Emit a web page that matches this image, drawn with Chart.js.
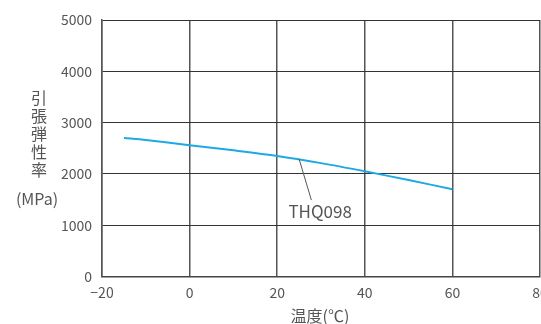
<!DOCTYPE html>
<html>
<head>
<meta charset="utf-8">
<script src="https://cdn.jsdelivr.net/npm/chart.js@4.4.1/dist/chart.umd.min.js"></script>
<style>
  html, body { margin: 0; padding: 0; background: #fff; overflow: hidden; }
  #wrap { width: 541px; height: 324px; overflow: hidden; position: relative; }
  canvas { display: block; }
</style>
</head>
<body>
<div id="wrap"><canvas id="c" width="580" height="324"></canvas></div>
<script>
// Tensile modulus of THQ098 versus temperature
const temperatures = [-15, -10, 0, 10, 20, 30, 40, 50, 60];
const modulusTHQ098 = [2700, 2660, 2560, 2460, 2350, 2210, 2050, 1880, 1700];
const xTicks = [-20, 0, 20, 40, 60, 80];
const yTicks = [0, 1000, 2000, 3000, 4000, 5000];
const seriesName = 'THQ098';
const yTitleChars = ['引', '張', '弾', '性', '率'];
const yUnit = '(MPa)';
const xTitle = '温度(℃)';

const FONT = '"Noto Sans CJK JP", "Noto Sans", sans-serif';
const TEXT = '#555';

// Callout for the series name, in data units
const callout = { from: [25, 2290], to: [27.8, 1490], text: [29.8, 1260] };

const titlesPlugin = {
  id: 'titles',
  afterDraw(chart) {
    const ctx = chart.ctx;
    const xs = chart.scales.x, ys = chart.scales.y;
    ctx.save();
    // series callout
    ctx.strokeStyle = '#555';
    ctx.lineWidth = 1;
    ctx.beginPath();
    ctx.moveTo(xs.getPixelForValue(callout.from[0]), ys.getPixelForValue(callout.from[1]));
    ctx.lineTo(xs.getPixelForValue(callout.to[0]), ys.getPixelForValue(callout.to[1]));
    ctx.stroke();
    ctx.fillStyle = TEXT;
    ctx.font = '17px ' + FONT;
    ctx.textAlign = 'center';
    ctx.textBaseline = 'middle';
    ctx.fillText(seriesName, xs.getPixelForValue(callout.text[0]), ys.getPixelForValue(callout.text[1]));
    // vertical y title
    ctx.font = '16px ' + FONT;
    yTitleChars.forEach((ch, i) => ctx.fillText(ch, 39, 98 + i * 18));
    ctx.fillText(yUnit, 37, 199);
    // x title
    ctx.font = '16px ' + FONT;
    ctx.fillText(xTitle, 320, 316);
    ctx.restore();
  }
};

new Chart(document.getElementById('c'), {
  type: 'line',
  data: {
    datasets: [{
      label: seriesName,
      data: temperatures.map((t, i) => ({ x: t, y: modulusTHQ098[i] })),
      borderColor: '#1DA9E4',
      borderWidth: 2,
      pointRadius: 0,
      tension: 0.3,
      fill: false
    }]
  },
  options: {
    responsive: false,
    animation: false,
    events: [],
    layout: { padding: { top: 20, right: 40, left: 0, bottom: 0 } },
    plugins: { legend: { display: false }, tooltip: { enabled: false } },
    scales: {
      x: {
        type: 'linear',
        min: -20, max: 80,
        afterBuildTicks(s) { s.ticks = xTicks.map(v => ({ value: v })); },
        afterFit(s) { s.height = 47.5; },
        border: { display: true, color: '#444', width: 1.5 },
        grid: { color: '#555', lineWidth: 1.5, drawTicks: false },
        ticks: {
          padding: 8,
          color: TEXT,
          font: { family: FONT, size: 14 },
          callback: v => (v < 0 ? '\u2212' + Math.abs(v) : String(v))
        }
      },
      y: {
        type: 'linear',
        min: 0, max: 5000,
        afterBuildTicks(s) { s.ticks = yTicks.map(v => ({ value: v })); },
        afterFit(s) { s.width = 102; },
        border: { display: true, color: '#555', width: 1.5 },
        grid: { color: '#333', lineWidth: 1, drawTicks: false },
        ticks: {
          padding: 10,
          color: TEXT,
          font: { family: FONT, size: 14 },
          callback: v => String(v)
        }
      }
    }
  },
  plugins: [titlesPlugin]
});
</script>
</body>
</html>
